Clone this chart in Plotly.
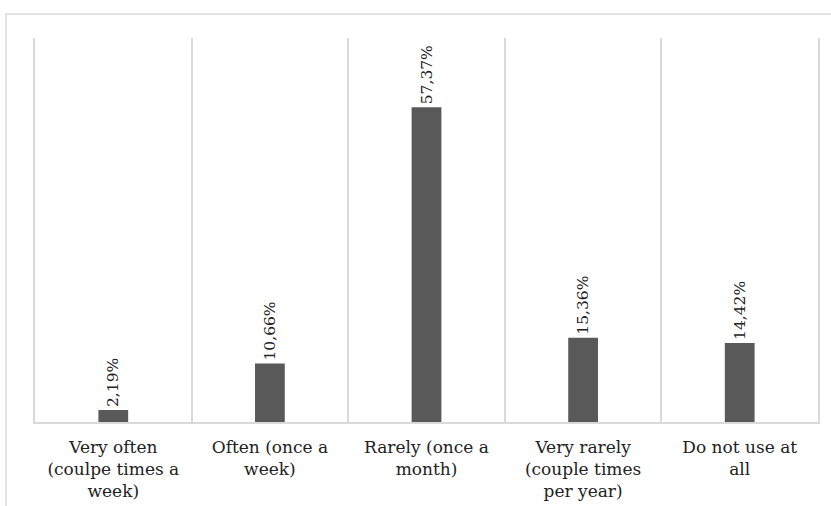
import plotly.graph_objects as go

categories = [
    "Very often<br>(coulpe times a<br>week)",
    "Often (once a<br>week)",
    "Rarely (once a<br>month)",
    "Very rarely<br>(couple times<br>per year)",
    "Do not use at<br>all",
]
values = [2.19, 10.66, 57.37, 15.36, 14.42]
labels = ["2,19%", "10,66%", "57,37%", "15,36%", "14,42%"]

fig = go.Figure(
    go.Bar(
        x=categories,
        y=values,
        text=labels,
        textposition="outside",
        textangle=-90,
        constraintext="none",
        cliponaxis=False,
        marker=dict(color="#595959", line=dict(width=0)),
        width=0.19,
        textfont=dict(family="DejaVu Serif", size=15.5, color="#222222"),
    )
)

fig.update_layout(
    width=831,
    height=506,
    margin=dict(l=35, r=13, t=38, b=84),
    paper_bgcolor="white",
    plot_bgcolor="white",
    showlegend=False,
    xaxis=dict(
        type="category",
        automargin=False,
        tickson="boundaries",
        showgrid=True,
        gridcolor="#d9d9d9",
        gridwidth=1.5,
        showline=True,
        linecolor="#d9d9d9",
        linewidth=1.5,
        ticks="",
        ticklabelstandoff=9,
        tickfont=dict(family="DejaVu Serif", size=17, color="#222222"),
    ),
    yaxis=dict(
        range=[0, 70],
        automargin=False,
        showgrid=False,
        showticklabels=False,
        zeroline=False,
        showline=True,
        mirror=True,
        linecolor="#d9d9d9",
        linewidth=1.5,
    ),
    shapes=[
        dict(
            type="rect",
            xref="paper",
            yref="paper",
            x0=-0.037,
            x1=1.02,
            y0=-0.25,
            y1=1.0625,
            line=dict(color="#d9d9d9", width=1.5),
            fillcolor="rgba(0,0,0,0)",
            layer="below",
        )
    ],
)

fig.write_html("out.html")
